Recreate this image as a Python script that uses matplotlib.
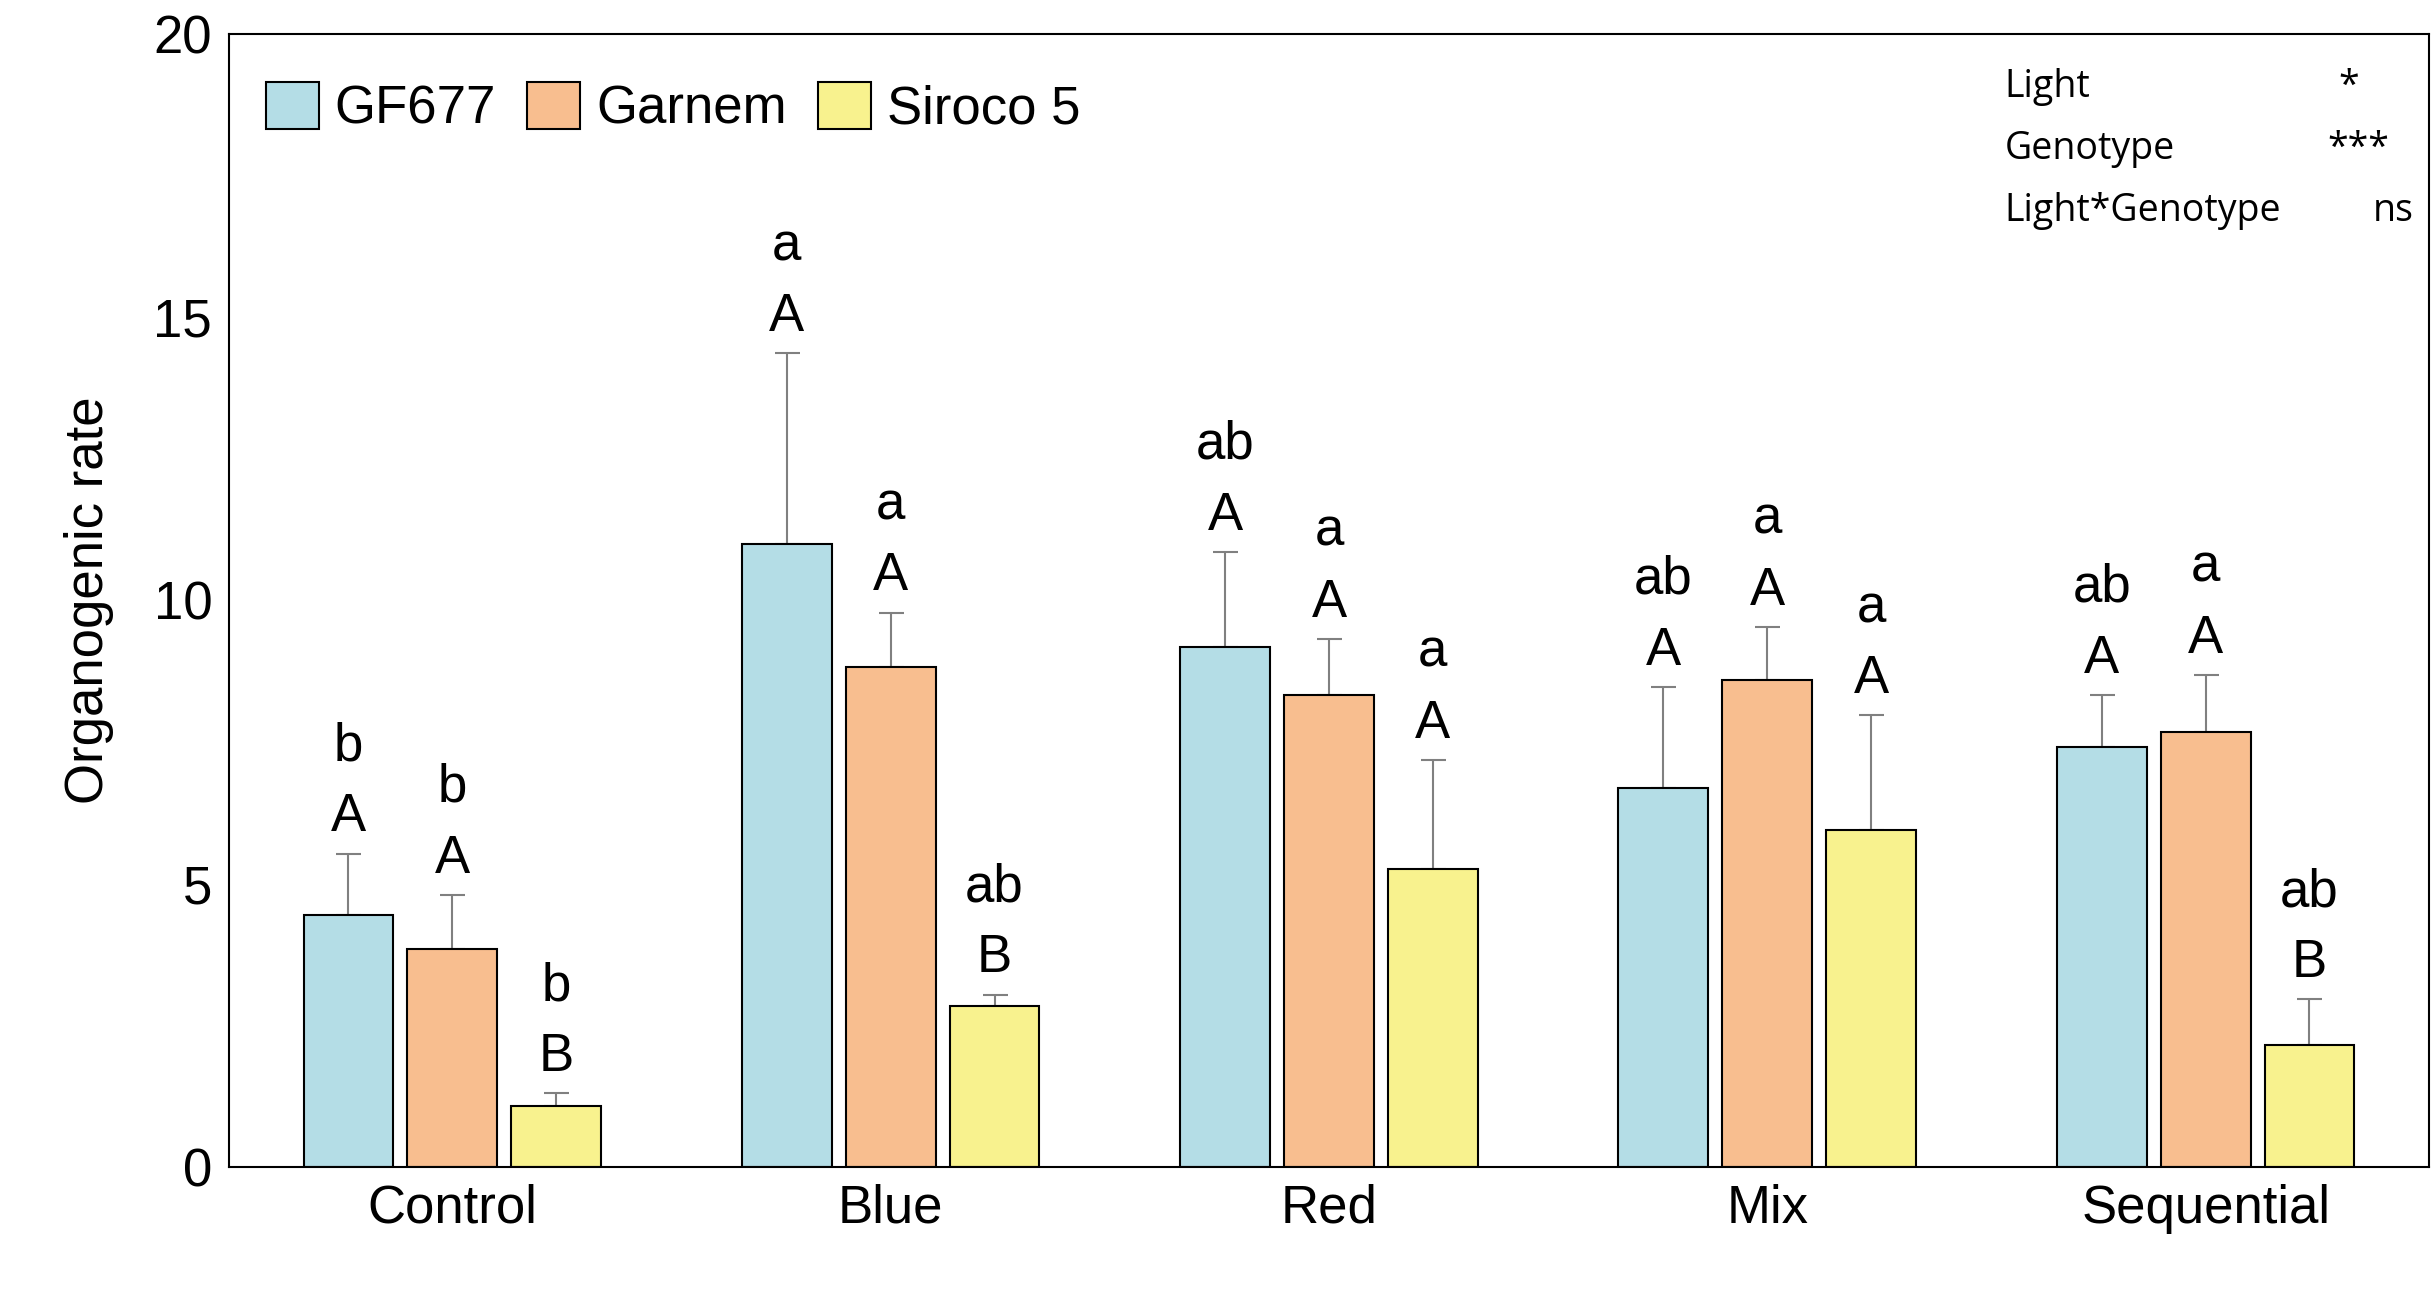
import numpy as np
import matplotlib.pyplot as plt

plt.rcParams['font.family'] = ['Liberation Sans', 'DejaVu Sans']

groups = ['Control', 'Blue', 'Red', 'Mix', 'Sequential']
genotypes = ['GF677', 'Garnem', 'Siroco 5']
means = [[4.45, 11.0, 9.18, 6.68, 7.42],
         [3.84, 8.82, 8.33, 8.6, 7.67],
         [1.07, 2.85, 5.26, 5.95, 2.16]]
errs = [[1.08, 3.36, 1.67, 1.79, 0.91],
        [0.96, 0.96, 0.99, 0.93, 1.01],
        [0.23, 0.19, 1.92, 2.02, 0.8]]
lower = [['b', 'a', 'ab', 'ab', 'ab'],
         ['b', 'a', 'a', 'a', 'a'],
         ['b', 'ab', 'a', 'a', 'ab']]
upper = [['A', 'A', 'A', 'A', 'A'],
         ['A', 'A', 'A', 'A', 'A'],
         ['B', 'B', 'A', 'A', 'B']]
colors = ['#B4DDE6', '#F8BE8F', '#F8F28E']

fig = plt.figure(figsize=(24.34, 12.91), dpi=100)
ax = fig.add_axes([0.094, 0.096, 0.904, 0.878])
x = np.arange(len(groups))
w = 0.205
off = 0.237
for i in range(3):
    xs = x + (i - 1) * off
    ax.bar(xs, means[i], w, color=colors[i], edgecolor='black', linewidth=1.5,
           label=genotypes[i], zorder=2)
    ax.errorbar(xs, means[i], yerr=[np.zeros(5), errs[i]], fmt='none',
                ecolor='#808080', elinewidth=1.5, capsize=9, capthick=1.5, zorder=1)
    for j in range(5):
        top = means[i][j] + errs[i][j]
        ax.text(xs[j], top + 0.2, upper[i][j], ha='center', va='bottom', fontsize=38)
        ax.text(xs[j], top + 1.45, lower[i][j], ha='center', va='bottom', fontsize=38)

ax.set_xlim(-0.51, 4.51)
ax.set_ylim(0, 20)
ax.set_yticks([0, 5, 10, 15, 20])
ax.set_xticks(x)
ax.set_xticklabels(groups)
ax.tick_params(labelsize=38, length=0, pad=12)
ax.set_ylabel('Organogenic rate', fontsize=38, labelpad=28)
for s in ax.spines.values():
    s.set_linewidth(1.5)

ax.legend(loc='upper left', fontsize=38, frameon=False, ncol=3, handlelength=1.0,
          handleheight=1.0, columnspacing=0.6, handletextpad=0.3,
          borderaxespad=0.3, bbox_to_anchor=(0.0, 0.99))

stats = [('Light', '*'), ('Genotype', '***'), ('Light*Genotype', 'ns')]
sig_x = [0.968, 0.982, 0.993]
for k, (lab, sig) in enumerate(stats):
    y = 0.97 - k * 0.055
    ax.text(0.807, y, lab, transform=ax.transAxes, fontsize=27, va='top',
            family='Open Sans')
    ax.text(sig_x[k], y, sig, transform=ax.transAxes, fontsize=27, va='top',
            ha='right', family='Open Sans')

fig.savefig('out.png')
